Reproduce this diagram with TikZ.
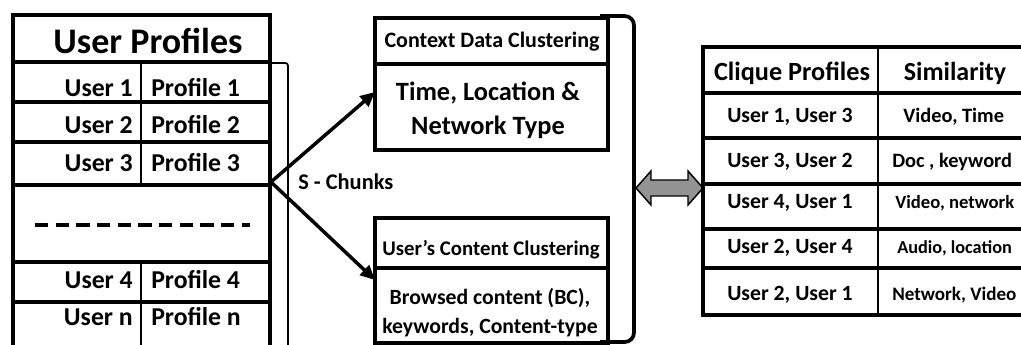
\documentclass[tikz,border=0pt]{standalone}
\usepackage{fontspec}
\setmainfont{Carlito}
\usetikzlibrary{arrows.meta}

\tikzset{
  frame/.style={line width=2.8pt},
  rule/.style={line width=2.3pt},
  thin/.style={line width=1.3pt},
  txt/.style={inner sep=0pt, font=\bfseries\fontsize{#1}{#1}\selectfont},
  txt/.default=19.3,
  link/.style={line width=2.6pt, -{Triangle[length=11pt,width=10pt]}},
}

\begin{document}
\begin{tikzpicture}[x=0.75pt,y=-0.75pt]
  \clip (0,0) rectangle (1021,345);
  % user profiles
  \draw[frame] (13,15) rectangle (270,360);
  \foreach \y in {62,102,142,185,262,302}
    \draw[rule] (13,\y) -- (270,\y);
  \draw[thin] (141,62) -- (141,185);
  \draw[thin] (141,262) -- (141,360);
  \draw[dashed, line width=2.8pt, dash pattern=on 10pt off 5.5pt] (35,225) -- (250,225);
  \draw[thin, rounded corners=2pt] (270,63) -- (288,63) -- (288,360);
  \node[txt=27] (uprof) at (148,41) {User Profiles};
  \foreach \n/\y in {1/88, 2/125, 3/163, 4/280, n/317} {
    \node[txt, anchor=east] (u\n) at (133,\y) {User \n};
    \node[txt, anchor=west] (p\n) at (151,\y) {Profile \n};
  }
  % clustering
  \coordinate (split) at (271,182);
  \coordinate (ctxin) at (375,92);
  \coordinate (cntin) at (375,280);
  \draw[frame] (375,18) rectangle (608,150);
  \draw[rule] (375,64) -- (608,64);
  \draw[frame] (375,218) rectangle (608,343);
  \draw[rule] (375,268) -- (608,268);
  \draw[frame, rounded corners=7pt] (600,16) -- (634,16) -- (634,342) -- (600,342);
  \node[txt=16.5] (ctxhd) at (492,42) {Context Data Clustering};
  \node[txt=19.8, align=center, font=\bfseries\fontsize{19.8}{25.5}\selectfont] (ctxbody) at (488,110) {Time, Location \&\\Network Type};
  \node[txt=15.6] (cnthd) at (491,250) {User’s Content Clustering};
  \node[txt=16.3, align=center, font=\bfseries\fontsize{16.3}{21.75}\selectfont] (cntbody) at (490,313) {Browsed content (BC),\\keywords, Content-type};
  \node[txt=16.8, anchor=west] (chunks) at (298,182) {S - Chunks};
  \draw[link] (split) -- (ctxin);
  \draw[link] (split) -- (cntin);
  % double arrow
  \draw[line width=1.1pt, fill=gray!85] (636,188) -- (651,171) -- (651,180) -- (688,180) -- (688,171)
    -- (703,188) -- (688,205) -- (688,196) -- (651,196) -- (651,205) -- cycle;
  % clique profiles
  \draw[frame] (703,47) rectangle (1040,315);
  \foreach \y in {93,138,184,229,268}
    \draw[rule] (703,\y) -- (1040,\y);
  \draw[thin] (878,47) -- (878,315);
  \node[txt=19.7] (cqhd) at (792,73) {Clique Profiles};
  \node[txt=19.5] (simhd) at (955,73) {Similarity};
  \foreach \i/\p/\s/\f/\x/\y in {1/{User 1, User 3}/{Video, Time}/15.3/903/117,
                              2/{User 3, User 2}/{Doc , keyword}/15.3/892/162,
                              3/{User 4, User 1}/{Video, network}/14/895/203,
                              4/{User 2, User 4}/{Audio, location}/13.7/897/248,
                              5/{User 2, User 1}/{Network, Video}/14.3/892/295} {
    \node[txt=16.3] (cq\i) at (790,\y) {\p};
    \node[txt=\f, anchor=west] (sim\i) at (\x,\y) {\s};
  }
\end{tikzpicture}
\end{document}
